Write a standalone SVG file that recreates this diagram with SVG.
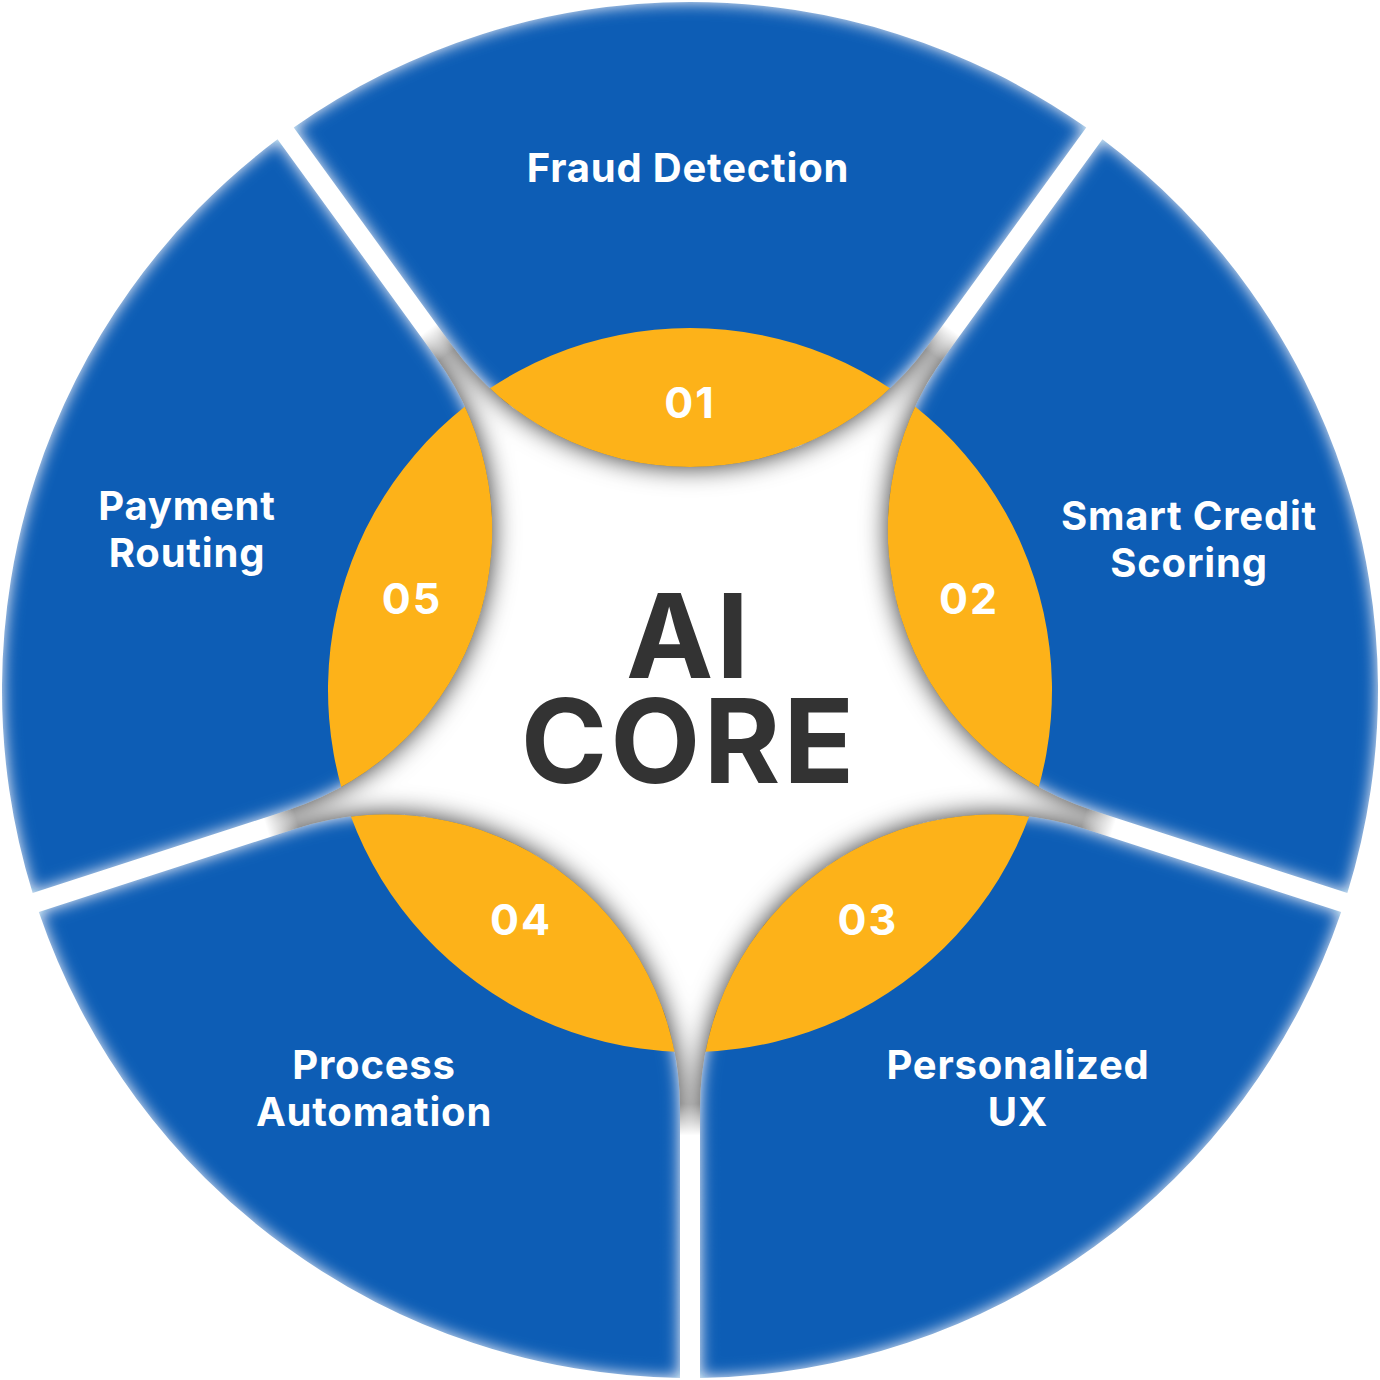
<svg xmlns="http://www.w3.org/2000/svg" xmlns:xlink="http://www.w3.org/1999/xlink" width="1380" height="1380" viewBox="0 0 1380 1380">
  <style>
    .blue { fill: #0E5DB5; }
    .orange { fill: #FDB219; }
    .num { font-family: Inter, "Liberation Sans", sans-serif; font-weight: 700; font-size: 43px; letter-spacing: 2px; fill: #FFFFFF; text-anchor: middle; }
    .label { font-family: Inter, "Liberation Sans", sans-serif; font-weight: 700; font-size: 40px; letter-spacing: 0.8px; fill: #FFFFFF; text-anchor: middle; }
    .core { font-family: Inter, "Liberation Sans", sans-serif; font-weight: 700; font-size: 117px; letter-spacing: 3px; fill: #333333; text-anchor: middle; }
  </style>
  <defs>
    <path id="seg" d="M452.37,345.92 L293.73,127.57 A688,688 0 0 1 1086.27,127.57 L927.63,345.92 A293.72,293.72 0 0 1 452.37,345.92 Z"/>
    <clipPath id="segclip"><use xlink:href="#seg" href="#seg"/></clipPath>
    <clipPath id="disc"><circle cx="690" cy="690" r="362"/></clipPath>
    <filter id="soft" x="-0.1" y="-0.1" width="1.2" height="1.2">
      <feGaussianBlur in="SourceGraphic" stdDeviation="8"/>
    </filter>
    <filter id="starShadow" x="-0.1" y="-0.1" width="1.2" height="1.2">
      <feGaussianBlur in="SourceAlpha" stdDeviation="13" result="b"/>
      <feComposite in="b" in2="SourceAlpha" operator="out" result="o"/>
      <feColorMatrix in="o" type="matrix" values="0 0 0 0 0  0 0 0 0 0  0 0 0 0 0  0 0 0 0.8 0"/>
    </filter>
    <radialGradient id="fade" gradientUnits="userSpaceOnUse" cx="690" cy="690" r="450">
      <stop offset="0.92" stop-color="#fff"/>
      <stop offset="0.99" stop-color="#000"/>
    </radialGradient>
    <mask id="shadowMask" maskUnits="userSpaceOnUse" x="0" y="0" width="1380" height="1380">
      <circle cx="690" cy="690" r="450" fill="url(#fade)"/>
    </mask>
  </defs>

  <rect width="1380" height="1380" fill="#FFFFFF"/>

  <g id="node-01-fraud-detection">
    <g transform="rotate(0 690 690)">
      <use xlink:href="#seg" href="#seg" class="blue" filter="url(#soft)" clip-path="url(#segclip)"/>
      <use xlink:href="#seg" href="#seg" class="orange" clip-path="url(#disc)"/>
    </g>
    <text class="num" x="690" y="418">01</text>
    <text class="label" x="688" y="182">Fraud Detection</text>
  </g>

  <g id="node-02-smart-credit-scoring">
    <g transform="rotate(72 690 690)">
      <use xlink:href="#seg" href="#seg" class="blue" filter="url(#soft)" clip-path="url(#segclip)"/>
      <use xlink:href="#seg" href="#seg" class="orange" clip-path="url(#disc)"/>
    </g>
    <text class="num" x="969" y="614">02</text>
    <text class="label" x="1189" y="530">Smart Credit</text>
    <text class="label" x="1189" y="577">Scoring</text>
  </g>

  <g id="node-03-personalized-ux">
    <g transform="rotate(144 690 690)">
      <use xlink:href="#seg" href="#seg" class="blue" filter="url(#soft)" clip-path="url(#segclip)"/>
      <use xlink:href="#seg" href="#seg" class="orange" clip-path="url(#disc)"/>
    </g>
    <text class="num" x="868" y="935">03</text>
    <text class="label" x="1018" y="1079">Personalized</text>
    <text class="label" x="1018" y="1126">UX</text>
  </g>

  <g id="node-04-process-automation">
    <g transform="rotate(216 690 690)">
      <use xlink:href="#seg" href="#seg" class="blue" filter="url(#soft)" clip-path="url(#segclip)"/>
      <use xlink:href="#seg" href="#seg" class="orange" clip-path="url(#disc)"/>
    </g>
    <text class="num" x="521" y="935">04</text>
    <text class="label" x="374" y="1079">Process</text>
    <text class="label" x="374" y="1126">Automation</text>
  </g>

  <g id="node-05-payment-routing">
    <g transform="rotate(288 690 690)">
      <use xlink:href="#seg" href="#seg" class="blue" filter="url(#soft)" clip-path="url(#segclip)"/>
      <use xlink:href="#seg" href="#seg" class="orange" clip-path="url(#disc)"/>
    </g>
    <text class="num" x="412" y="614">05</text>
    <text class="label" x="187" y="520">Payment</text>
    <text class="label" x="187" y="567">Routing</text>
  </g>

  <g id="core-shadow" mask="url(#shadowMask)">
    <g filter="url(#starShadow)">
      <use xlink:href="#seg" href="#seg" transform="rotate(0 690 690)"/>
      <use xlink:href="#seg" href="#seg" transform="rotate(72 690 690)"/>
      <use xlink:href="#seg" href="#seg" transform="rotate(144 690 690)"/>
      <use xlink:href="#seg" href="#seg" transform="rotate(216 690 690)"/>
      <use xlink:href="#seg" href="#seg" transform="rotate(288 690 690)"/>
    </g>
  </g>

  <g id="node-ai-core">
    <text class="core"><tspan x="689" y="678">AI</tspan><tspan x="689" y="783">CORE</tspan></text>
  </g>
</svg>
